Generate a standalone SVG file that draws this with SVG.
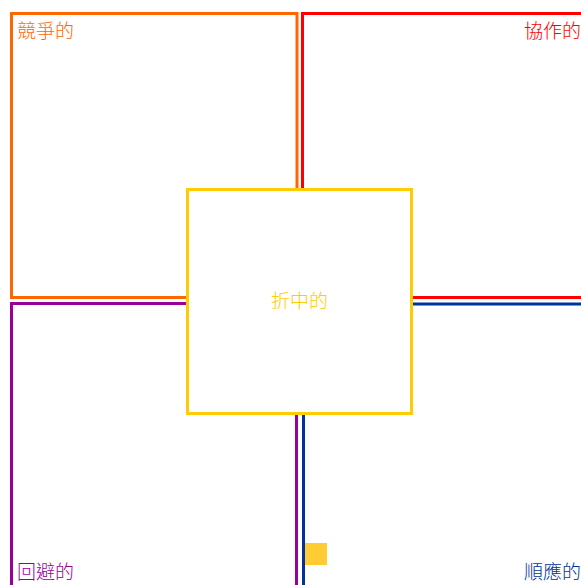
<svg xmlns="http://www.w3.org/2000/svg" width="581" height="585" viewBox="0 0 581 585">
<style>
.q{fill:#fff;stroke-width:3}
.t{font-family:"Noto Sans CJK TC","Noto Sans CJK SC",sans-serif;font-size:19px;font-weight:300}
</style>
<rect width="581" height="585" fill="#fff"/>
<g id="competing"><rect class="q" x="11.5" y="13.5" width="285.5" height="284" stroke="#FF6600"/><text class="t" x="17" y="38" fill="#FF6600">競爭的</text></g>
<g id="collaborating"><rect class="q" x="302.5" y="13.5" width="290" height="284" stroke="#FF0000"/><text class="t" x="581" y="38" text-anchor="end" fill="#FF0000">協作的</text></g>
<g id="avoiding"><rect class="q" x="11.5" y="303.5" width="285" height="290" stroke="#990099"/><text class="t" x="17" y="579" fill="#990099">回避的</text></g>
<g id="accommodating"><rect class="q" x="303.5" y="304" width="290" height="290" stroke="#003399"/><text class="t" x="581" y="579" text-anchor="end" fill="#003399">順應的</text></g>
<g id="compromising"><rect class="q" x="187.5" y="189.5" width="224" height="224" stroke="#FFCC00"/><text class="t" x="299.5" y="308" text-anchor="middle" fill="#FFCC00">折中的</text></g>
<g id="marker"><rect x="305" y="543" width="22" height="22" fill="#FFCC33"/></g>
<g id="connectors"></g>
</svg>
